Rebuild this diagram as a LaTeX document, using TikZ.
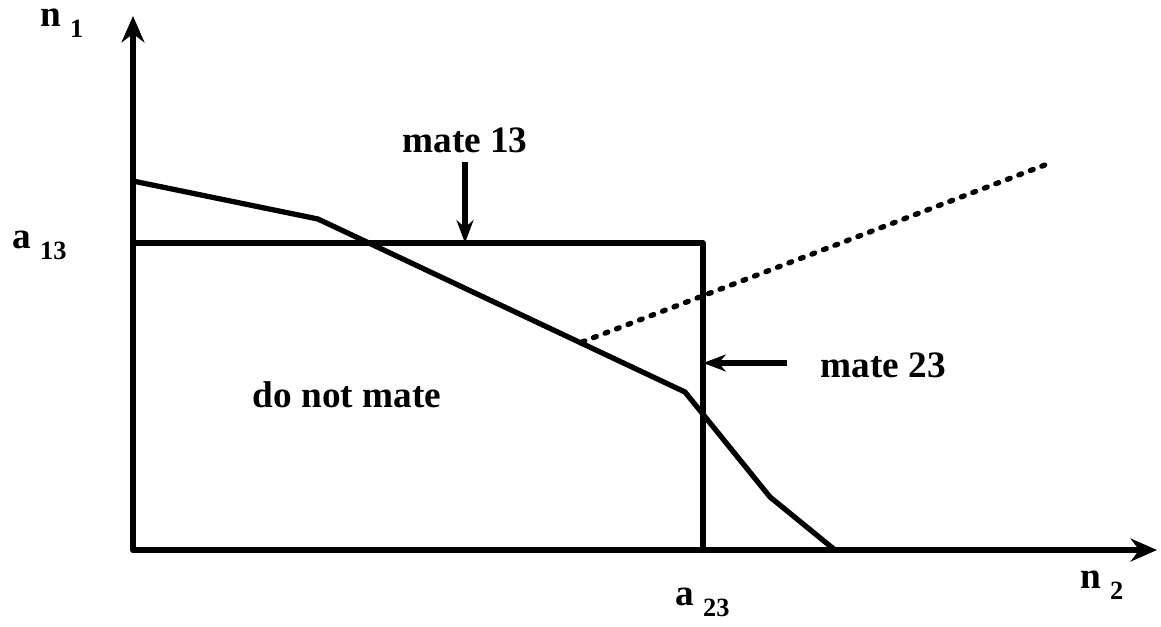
\documentclass[tikz,border=0pt]{standalone}
\usepackage{fontspec}
\setmainfont{Liberation Serif}
\usetikzlibrary{arrows.meta}

\newcommand{\sublabel}[2]{#1\hspace{2.5pt}\raisebox{-3.4pt}{\fontsize{7.5}{8}\selectfont #2}}

\tikzset{
  axisline/.style={
    line width=1.8pt, line join=round,
    {Stealth[length=7.5pt,width=6.5pt]}-{Stealth[length=7.5pt,width=6.5pt]}
  },
  regionline/.style={line width=1.5pt, line join=round},
  payoffline/.style={line width=1.5pt, line join=round},
  trendline/.style={
    line width=1.5pt, line cap=round, dash pattern=on 0.85pt off 2.65pt
  },
  pointer/.style={
    line width=1.5pt, -{Stealth[length=6.5pt,width=4.8pt]}
  },
  textlabel/.style={
    font=\fontsize{10.6}{12}\selectfont\bfseries, inner sep=0pt
  },
}

\begin{document}
\begin{tikzpicture}[x=0.01cm, y=-0.01cm]
\useasboundingbox (0,0) rectangle (1161,626);

% axes
\coordinate (O) at (133,550);
\coordinate (ytop) at (133,16);
\coordinate (xend) at (1157,550);
\draw[axisline] (ytop) -- (O) -- (xend);

% thresholds a13 and a23
\coordinate (a13) at (133,243);
\coordinate (corner) at (703,243);
\coordinate (a23) at (703,550);
\draw[regionline] (a13) -- (corner) -- (a23);

% boundary curve
\coordinate (c0) at (133,181);
\coordinate (c1) at (318,219);
\coordinate (c2) at (685,392);
\coordinate (c3) at (770,497);
\coordinate (c4) at (835,550);
\draw[payoffline] (c0) -- (c1) -- (c2) -- (c3) -- (c4);

% dotted line
\coordinate (d0) at (582,342);
\coordinate (d1) at (1050,163);
\draw[trendline] (d0) -- (d1);

% labels
\node[textlabel, anchor=base west] (n1) at (40,26) {\sublabel{n}{1}};
\node[textlabel, anchor=base west] (a13lbl) at (12,248) {\sublabel{a}{13}};
\node[textlabel, anchor=base west] (a23lbl) at (675,605) {\sublabel{a}{23}};
\node[textlabel, anchor=base west] (n2) at (1080,588) {\sublabel{n}{2}};
\node[textlabel, anchor=base west] (nomate) at (252,407) {do not mate};
\node[textlabel, anchor=base] (mate13) at (465,152) {mate 13};
\node[textlabel, anchor=base west] (mate23) at (820,377) {mate 23};

% pointers
\coordinate (m13tail) at (465,162);
\coordinate (m13head) at (465,243);
\draw[pointer] (m13tail) -- (m13head);
\coordinate (m23tail) at (787,363);
\coordinate (m23head) at (703,363);
\draw[pointer] (m23tail) -- (m23head);

\end{tikzpicture}
\end{document}
